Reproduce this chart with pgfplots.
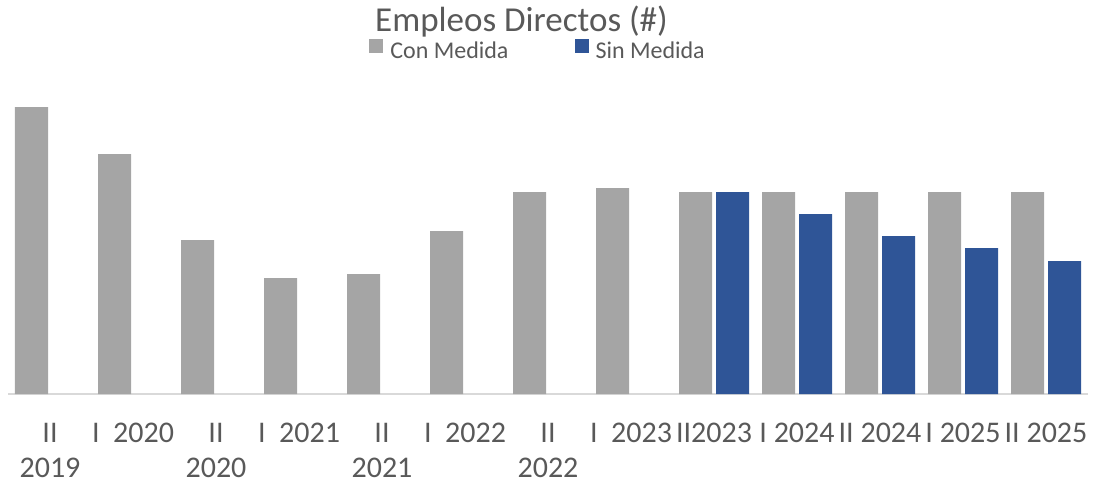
\documentclass[border=0pt]{standalone}
\usepackage{pgfplots}
\pgfplotsset{compat=1.18}
\usepackage{fontspec}
\setmainfont{Carlito}
\definecolor{txt}{HTML}{595959}
\definecolor{cgray}{HTML}{A5A5A5}
\definecolor{cblue}{HTML}{2F5597}
\definecolor{axl}{HTML}{D9D9D9}
\begin{document}
\begin{tikzpicture}
\useasboundingbox (0,0) rectangle (551.5pt,-241.5pt);
\node[anchor=base, text=txt, font=\fontsize{17.5}{20}\selectfont] at (260.75pt,-15.85pt) {Empleos Directos (\#)};
\begin{axis}[
  at={(4.25pt,-197pt)}, anchor=south west,
  scale only axis, width=539.5pt, height=150pt,
  xmin=-0.5, xmax=12.5, ymin=0, ymax=300,
  axis y line=none,
  axis x line*=bottom,
  x axis line style={draw=axl, line width=0.8pt, -},
  xtick={0,1,2,3,4,5,6,7,8,9,10,11,12},
  xticklabels={{II\\2019},{I\ \ 2020},{II\\2020},{I\ \ 2021},{II\\2021},{I\ \ 2022},{II\\2022},{I\ \ 2023},{II2023},{I 2024},{II 2024},{I 2025},{II 2025}},
  major tick length=0pt,
  xticklabel style={align=center, text=txt, font=\fontsize{15}{17.5}\selectfont, yshift=-11pt},
  bar width=16.5pt,
  clip=false,
  legend columns=2,
  legend style={at={(0.4917,1.14)}, anchor=center, draw=none, fill=none,
    font=\fontsize{12}{14}\selectfont, text=txt,
    /tikz/every even column/.append style={column sep=31pt},
    /tikz/every odd column/.append style={column sep=1.5pt},
    inner sep=0pt},
  legend image code/.code={\fill[#1] (0pt,-0.5pt) rectangle (7pt,6.5pt);},
]
\addplot[ybar, fill=cgray, draw=none, bar shift=-9.25pt] coordinates {
(0,287) (1,240) (2,154) (3,116) (4,120) (5,163) (6,202) (7,206) (8,202) (9,202) (10,202) (11,202) (12,202)};
\addlegendentry{Con Medida}
\addplot[ybar, fill=cblue, draw=none, bar shift=9.25pt] coordinates {
(8,202) (9,180) (10,158) (11,146) (12,133)};
\addlegendentry{Sin Medida}
\end{axis}
\end{tikzpicture}
\end{document}
